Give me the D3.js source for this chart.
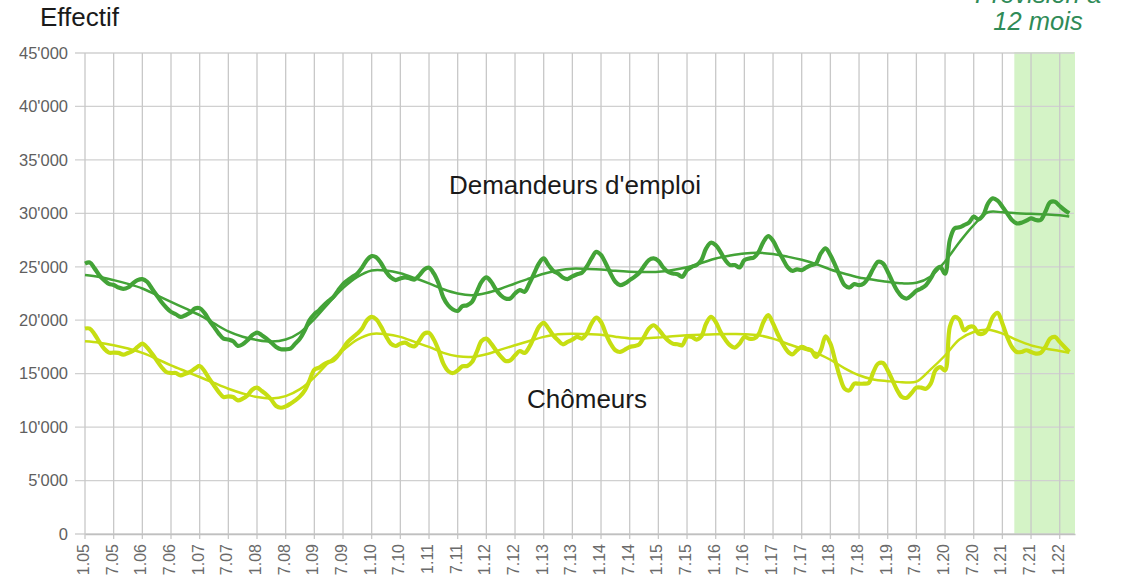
<!DOCTYPE html>
<html>
<head>
<meta charset="utf-8">
<script src="https://cdn.jsdelivr.net/npm/d3@7"></script>
<style>
  body { margin: 0; background: #fff; }
  text { font-family: "Liberation Sans", Arial, sans-serif; }
</style>
</head>
<body>
<script>
// monthly values, Jan 2005 (index 0) to Mar 2022 (index 206)
var demandeurs = [
  25300, 25400, 24850, 24200, 23750, 23400, 23300, 23060, 22940, 23060, 23440, 23750,
  23850, 23600, 22970, 22340, 21700, 21190, 20780, 20560, 20310, 20470, 20690, 21100,
  21130, 20690, 20000, 19375, 18750, 18280, 18190, 18030, 17600, 17750, 18120, 18600,
  18840, 18600, 18280, 17900, 17500, 17280, 17280, 17340, 17810, 18280, 19060, 20000,
  20560, 20940, 21400, 21810, 22190, 22810, 23375, 23750, 24060, 24375, 24940, 25625,
  26000, 25875, 25310, 24530, 24000, 23750, 23910, 24000, 23910, 23810, 24220, 24750,
  24910, 24375, 23440, 22125, 21400, 21000, 20870, 21310, 21400, 21720, 22660, 23600,
  24000, 23600, 22875, 22340, 22030, 22030, 22500, 22810, 22660, 23440, 24375, 25310,
  25780, 25160, 24625, 24375, 24000, 23850, 24100, 24300, 24440, 25000, 25780, 26400,
  26100, 25310, 24375, 23600, 23280, 23440, 23750, 24060, 24440, 25060, 25625, 25780,
  25560, 24940, 24530, 24375, 24310, 24060, 24690, 25000, 25160, 25625, 26720, 27250,
  27030, 26400, 25625, 25160, 25160, 24940, 25625, 25780, 25870, 26400, 27340, 27870,
  27440, 26560, 25780, 25000, 24625, 24750, 24690, 24940, 25160, 25310, 26250, 26720,
  26090, 25160, 24125, 23280, 23060, 23375, 23280, 23440, 24000, 24840, 25470, 25310,
  24530, 23590, 22750, 22190, 22030, 22340, 22750, 22970, 23280, 23910, 24690, 25000,
  24350, 27500, 28600, 28690, 28900, 29125, 29690, 29440, 29840, 30940, 31400, 31190,
  30625, 30000, 29375, 29060, 29125, 29310, 29530, 29375, 29375, 30150, 31030, 31090,
  30690, 30310, 30000
];
var chomeurs = [
  19220, 19220, 18690, 17970, 17340, 16970, 16970, 16940, 16780, 16940, 17120, 17500,
  17810, 17440, 16875, 16250, 15625, 15160, 15060, 15060, 14840, 15000, 15160, 15470,
  15720, 15250, 14530, 13900, 13280, 12810, 12875, 12810, 12500, 12660, 12970, 13500,
  13690, 13375, 13030, 12560, 11970, 11810, 11940, 12190, 12500, 12875, 13440, 14375,
  15375, 15560, 15875, 16090, 16250, 16720, 17340, 17970, 18375, 18750, 19220, 20000,
  20310, 20060, 19375, 18500, 17810, 17590, 17810, 17900, 17660, 17560, 18120, 18750,
  18810, 18190, 17190, 15940, 15250, 15060, 15310, 15690, 15720, 16090, 17030, 18060,
  18280, 17810, 17190, 16625, 16190, 16250, 16720, 17120, 16940, 17500, 18440, 19375,
  19750, 19220, 18590, 18120, 17750, 17970, 18190, 18440, 18280, 18750, 19690, 20250,
  19840, 18750, 17810, 17190, 17030, 17250, 17500, 17590, 17750, 18440, 19220, 19530,
  19160, 18590, 18120, 17810, 17750, 17660, 18440, 18440, 18190, 18500, 19690, 20310,
  19840, 18910, 18190, 17660, 17440, 17810, 18440, 18280, 18280, 18690, 19840, 20470,
  19690, 18690, 17810, 17120, 16810, 17190, 17500, 17340, 17190, 16560, 17200, 18500,
  17810, 16250, 14690, 13590, 13440, 14060, 14060, 14060, 14125, 15160, 15940, 16000,
  15310, 14375, 13440, 12810, 12750, 13190, 13690, 13690, 13590, 14060, 15310, 15625,
  15310, 19375, 20310, 20060, 19060, 19375, 19375, 18750, 18750, 19220, 20310, 20690,
  19690, 18440, 17500, 17030, 17030, 17190, 17030, 16875, 16940, 17500, 18280, 18440,
  17970, 17500, 17030
];

// smoothed trend, read every three months
var trendMonths = [
  0, 3, 6, 9, 12, 15, 18, 21, 24, 27, 30, 33, 36, 39, 42, 45, 48, 51, 54, 57, 60, 63, 66, 69,
  72, 75, 78, 81, 84, 87, 90, 93, 96, 99, 102, 105, 108, 111, 114, 117, 120, 123, 126, 129,
  132, 135, 138, 141, 144, 147, 150, 153, 156, 159, 162, 165, 168, 171, 174, 177, 180, 183,
  186, 189, 192, 195, 198, 201, 204, 206
];
var demandeursTrend = [
  24220, 24050, 23750, 23400, 22970, 22350, 21720, 21100, 20470, 19700, 18950, 18450,
  18150, 18000, 18190, 18850, 20100, 21600, 23000, 24050, 24650, 24650, 24400, 23950,
  23450, 22900, 22500, 22340, 22550, 22950, 23440, 23900, 24350, 24650, 24820, 24800,
  24750, 24620, 24530, 24500, 24530, 24700, 24950, 25350, 25780, 26050, 26250, 26310,
  26190, 25950, 25650, 25250, 24750, 24350, 24000, 23780, 23590, 23450, 23500, 24100,
  25500, 27300, 28900, 30100, 30100, 30000, 29950, 29900, 29820, 29700
];
var chomeursTrend = [
  18030, 17900, 17660, 17350, 16940, 16380, 15780, 15230, 14690, 14130, 13590, 13150,
  12810, 12680, 12900, 13550, 14650, 16050, 17190, 18190, 18720, 18690, 18440, 17970,
  17500, 16950, 16625, 16560, 16810, 17250, 17660, 18060, 18440, 18690, 18740, 18700,
  18650, 18450, 18300, 18300, 18380, 18500, 18590, 18650, 18690, 18700, 18690, 18590,
  18280, 17800, 17340, 16950, 16300, 15500, 14850, 14450, 14300, 14200, 14250, 15400,
  16700, 18200, 18900, 19100, 18750, 18150, 17650, 17350, 17120, 16950
];

var tickMonths = d3.range(0, 205, 6);
var tickLabels = [
  "1.05", "7.05", "1.06", "7.06", "1.07", "7.07", "1.08", "7.08", "1.09", "7.09",
  "1.10", "7.10", "1.11", "7.11", "1.12", "7.12", "1.13", "7.13", "1.14", "7.14",
  "1.15", "7.15", "1.16", "7.16", "1.17", "7.17", "1.18", "7.18", "1.19", "7.19",
  "1.20", "7.20", "1.21", "7.21", "1.22"
];
var yTicks = [0, 5000, 10000, 15000, 20000, 25000, 30000, 35000, 40000, 45000];
var forecastStart = 194.5;
var monthEnd = 207.2;

var width = 1124, height = 580;
var darkGreen = "#43a337";
var lightGreen = "#c6de12";

var svg = d3.select("body").append("svg")
    .attr("width", width)
    .attr("height", height);

var x = d3.scaleLinear().domain([0, monthEnd]).range([85, 1075]);
var y = d3.scaleLinear().domain([0, 45000]).range([534, 53]);

// forecast band
svg.append("rect")
    .attr("x", x(forecastStart))
    .attr("y", y(45000) - 1)
    .attr("width", x(monthEnd) - x(forecastStart))
    .attr("height", y(0) - y(45000) + 1)
    .attr("fill", "#d4f3c6");

// grid
svg.append("g")
    .selectAll("line")
    .data(yTicks)
    .enter().append("line")
    .attr("x1", 75)
    .attr("x2", x(monthEnd) - 1)
    .attr("y1", function (d) { return y(d); })
    .attr("y2", function (d) { return y(d); })
    .attr("stroke", "#d0d0d0")
    .attr("stroke-width", 1.3);

svg.append("g")
    .selectAll("line")
    .data(tickMonths)
    .enter().append("line")
    .attr("x1", function (d) { return x(d); })
    .attr("x2", function (d) { return x(d); })
    .attr("y1", y(45000))
    .attr("y2", y(0) + 5)
    .attr("stroke", "#c8c8c8")
    .attr("stroke-width", 1.3);

// y axis labels
var fmt = function (d) { return d3.format(",")(d).replace(/,/g, "'"); };
var yAxis = d3.axisLeft(y).tickValues(yTicks).tickFormat(fmt).tickSize(0).tickPadding(0);
var yg = svg.append("g").attr("transform", "translate(68,0)").call(yAxis);
yg.select(".domain").remove();
yg.selectAll("text")
    .attr("fill", "#5f5f5f")
    .style("font-size", "16.5px")
    .style("font-family", "'Liberation Sans', Arial, sans-serif");

// x axis labels
var xAxis = d3.axisBottom(x).tickValues(tickMonths)
    .tickFormat(function (d, i) { return tickLabels[i]; })
    .tickSize(0);
var xg = svg.append("g").attr("transform", "translate(0," + y(0) + ")").call(xAxis);
xg.select(".domain").attr("stroke", "#c0c0c0").attr("stroke-width", 1.3);
xg.selectAll("text")
    .attr("fill", "#6a6a6a")
    .style("font-size", "16px")
    .style("font-family", "'Liberation Sans', Arial, sans-serif")
    .attr("text-anchor", "end")
    .attr("transform", "rotate(-90)")
    .attr("x", -10)
    .attr("y", -2)
    .attr("dy", "0.35em");

// lines
var rawLine = d3.line()
    .x(function (d, i) { return x(i); })
    .y(function (d) { return y(d); })
    .curve(d3.curveCatmullRom.alpha(0.5));

var trendLine = d3.line()
    .x(function (d, i) { return x(trendMonths[i]); })
    .y(function (d) { return y(d); })
    .curve(d3.curveCatmullRom.alpha(0.5));

svg.append("path").datum(chomeursTrend).attr("d", trendLine)
    .attr("fill", "none").attr("stroke", lightGreen).attr("stroke-width", 2.5);
svg.append("path").datum(chomeurs).attr("d", rawLine)
    .attr("fill", "none").attr("stroke", lightGreen).attr("stroke-width", 4.2)
    .attr("stroke-linejoin", "round");
svg.append("path").datum(demandeursTrend).attr("d", trendLine)
    .attr("fill", "none").attr("stroke", darkGreen).attr("stroke-width", 2.5);
svg.append("path").datum(demandeurs).attr("d", rawLine)
    .attr("fill", "none").attr("stroke", darkGreen).attr("stroke-width", 4.2)
    .attr("stroke-linejoin", "round");

// texts
svg.append("text").attr("x", 40).attr("y", 26)
    .style("font-size", "26px").attr("fill", "#1a1a1a").text("Effectif");

svg.append("text").attr("x", 575).attr("y", 194).attr("text-anchor", "middle")
    .style("font-size", "26px").attr("fill", "#1a1a1a").text("Demandeurs d'emploi");

svg.append("text").attr("x", 587).attr("y", 408).attr("text-anchor", "middle")
    .style("font-size", "26px").attr("fill", "#1a1a1a").text("Chômeurs");

var prev = svg.append("text").attr("text-anchor", "middle")
    .style("font-size", "25.5px").style("font-style", "italic").attr("fill", "#2f8b57");
prev.append("tspan").attr("x", 1038).attr("y", 3).text("Prévision à");
prev.append("tspan").attr("x", 1038).attr("y", 30).text("12 mois");
</script>
</body>
</html>
